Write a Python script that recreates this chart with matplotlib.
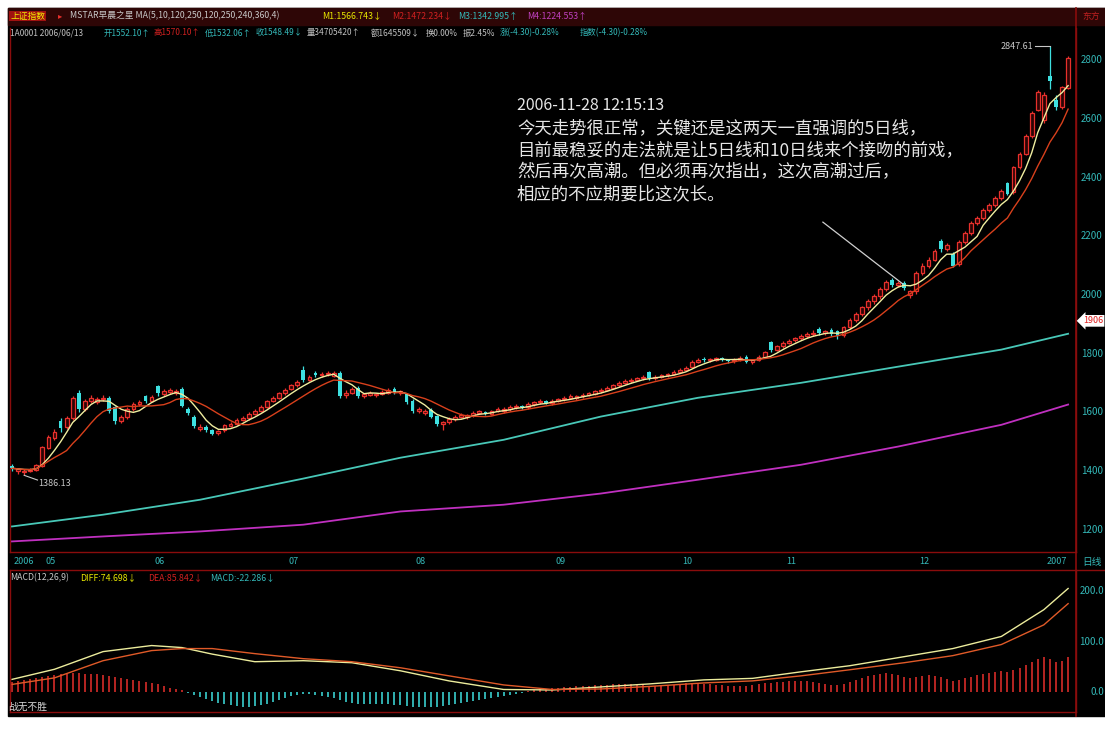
import numpy as np
import pandas as pd
import matplotlib
matplotlib.use("Agg")
import matplotlib.pyplot as plt
from matplotlib.patches import Rectangle
from matplotlib.lines import Line2D
from matplotlib.transforms import blended_transform_factory

plt.rcParams['font.family'] = ['Noto Sans CJK SC', 'DejaVu Sans']

# daily candles of the index, late Apr 2006 .. Jan 2007, one row per month
opens = [
    1418, 1402, 1398, 1400, 1404, 1418, 1480,
    1512, 1570, 1550, 1580, 1668, 1612, 1638, 1636, 1645, 1650, 1618, 1572, 1584, 1612, 1628, 1655, 1640, 1690,
    1662, 1670, 1668, 1680, 1612, 1585, 1545, 1550, 1540, 1530, 1540, 1555, 1562, 1575, 1582, 1595, 1605, 1620, 1640, 1650, 1665, 1680,
    1692, 1745, 1712, 1735, 1726, 1730, 1725, 1735, 1658, 1668, 1684, 1656, 1660, 1658, 1664, 1668, 1680, 1668, 1662, 1640, 1605,
    1598, 1610, 1588, 1560, 1566, 1578, 1585, 1584, 1590, 1598, 1600, 1596, 1606, 1604, 1612, 1618, 1620, 1618, 1628, 1636, 1640, 1632, 1640,
    1645, 1650, 1650, 1655, 1660, 1664, 1672, 1678, 1684, 1692, 1700, 1706, 1712, 1716, 1738, 1716, 1722, 1726, 1730, 1738, 1745,
    1755, 1772, 1782, 1778, 1780, 1785, 1778, 1774, 1780, 1790, 1772, 1778, 1790, 1840, 1812, 1825, 1838,
    1846, 1852, 1860, 1868, 1885, 1870, 1880, 1878, 1864, 1890, 1915, 1935, 1958, 1978, 1995, 2020, 2050, 2035, 2040, 2000, 2012, 2075,
    2100, 2120, 2185, 2155, 2140, 2105, 2180, 2210, 2245, 2262, 2290, 2305, 2330, 2380, 2350, 2435, 2480, 2540, 2630, 2595, 2745,
    2665, 2641, 2705,
]
closes = [
    1410, 1406, 1402, 1404, 1420, 1482, 1515,
    1535, 1548, 1582, 1650, 1612, 1640, 1650, 1645, 1650, 1605, 1570, 1585, 1612, 1630, 1635, 1640, 1652, 1665,
    1672, 1676, 1674, 1622, 1598, 1555, 1552, 1540, 1528, 1538, 1556, 1562, 1575, 1582, 1596, 1606, 1620, 1638, 1650, 1665, 1678, 1692,
    1705, 1712, 1722, 1728, 1732, 1736, 1733, 1655, 1668, 1680, 1655, 1662, 1668, 1664, 1670, 1676, 1668, 1672, 1635, 1605, 1612,
    1604, 1585, 1562, 1566, 1578, 1586, 1592, 1590, 1598, 1604, 1596, 1606, 1612, 1612, 1618, 1622, 1618, 1628, 1635, 1640, 1632, 1640, 1645,
    1650, 1656, 1655, 1660, 1665, 1672, 1678, 1685, 1692, 1700, 1708, 1712, 1716, 1722, 1718, 1722, 1726, 1730, 1738, 1745, 1752,
    1772, 1780, 1778, 1782, 1785, 1780, 1775, 1780, 1786, 1772, 1778, 1790, 1805, 1812, 1825, 1838, 1845,
    1852, 1860, 1868, 1872, 1870, 1876, 1868, 1862, 1890, 1915, 1935, 1958, 1978, 1995, 2020, 2045, 2035, 2040, 2025, 2012, 2075, 2100,
    2120, 2150, 2155, 2170, 2100, 2180, 2210, 2245, 2262, 2290, 2305, 2330, 2355, 2345, 2435, 2480, 2540, 2620, 2690, 2680, 2728,
    2641, 2707, 2808,
]
highs = [
    1424, 1412, 1408, 1410, 1426, 1486, 1522,
    1545, 1580, 1588, 1656, 1675, 1646, 1658, 1652, 1658, 1655, 1622, 1592, 1618, 1636, 1642, 1660, 1660, 1695,
    1680, 1684, 1680, 1686, 1618, 1590, 1560, 1556, 1545, 1542, 1560, 1568, 1580, 1588, 1600, 1612, 1625, 1642, 1656, 1670, 1684, 1698,
    1712, 1757, 1728, 1740, 1738, 1742, 1740, 1740, 1675, 1688, 1690, 1668, 1674, 1668, 1676, 1682, 1686, 1678, 1666, 1645, 1620,
    1612, 1614, 1592, 1572, 1584, 1592, 1598, 1596, 1604, 1610, 1606, 1610, 1618, 1618, 1624, 1628, 1626, 1634, 1640, 1646, 1644, 1645, 1650,
    1656, 1662, 1660, 1666, 1670, 1678, 1684, 1690, 1698, 1706, 1714, 1718, 1722, 1728, 1742, 1728, 1732, 1736, 1744, 1750, 1758,
    1778, 1786, 1788, 1786, 1790, 1790, 1782, 1784, 1792, 1795, 1782, 1795, 1810, 1845, 1830, 1842, 1850,
    1858, 1866, 1874, 1880, 1890, 1882, 1886, 1882, 1895, 1920, 1942, 1964, 1985, 2002, 2026, 2052, 2058, 2046, 2048, 2018, 2080, 2108,
    2128, 2158, 2192, 2178, 2145, 2186, 2218, 2252, 2270, 2296, 2312, 2338, 2362, 2385, 2440, 2488, 2548, 2628, 2698, 2690, 2847.61,
    2680, 2712, 2815,
]
lows = [
    1400, 1392, 1386.13, 1396, 1400, 1415, 1476,
    1505, 1535, 1545, 1575, 1600, 1605, 1632, 1630, 1640, 1598, 1560, 1565, 1578, 1605, 1622, 1632, 1635, 1655,
    1655, 1662, 1660, 1618, 1590, 1548, 1538, 1534, 1522, 1524, 1535, 1550, 1556, 1570, 1576, 1590, 1600, 1615, 1634, 1645, 1660, 1675,
    1688, 1705, 1708, 1722, 1720, 1725, 1720, 1650, 1648, 1662, 1650, 1650, 1655, 1652, 1660, 1664, 1662, 1660, 1630, 1598, 1598,
    1592, 1580, 1555, 1542, 1560, 1572, 1580, 1578, 1584, 1594, 1590, 1590, 1600, 1598, 1606, 1612, 1612, 1612, 1622, 1630, 1628, 1626, 1634,
    1640, 1645, 1644, 1650, 1655, 1660, 1668, 1674, 1680, 1688, 1696, 1702, 1708, 1712, 1710, 1712, 1718, 1722, 1726, 1734, 1740,
    1750, 1768, 1772, 1772, 1776, 1776, 1768, 1768, 1776, 1768, 1766, 1774, 1786, 1806, 1808, 1820, 1832,
    1840, 1846, 1855, 1862, 1864, 1865, 1860, 1850, 1858, 1885, 1908, 1928, 1950, 1970, 1988, 2012, 2028, 2028, 2018, 1990, 2005, 2068,
    2092, 2115, 2148, 2150, 2095, 2098, 2175, 2205, 2238, 2255, 2282, 2298, 2324, 2340, 2345, 2428, 2475, 2535, 2625, 2585, 2700,
    2630, 2632, 2700,
]

# long averages read at a few bars (cyan and purple lines)
ma_long_idx = [0, 15, 31, 48, 64, 81, 97, 113, 130, 146, 163, 174]
ma120 = [1212, 1252, 1303, 1375, 1446, 1507, 1586, 1650, 1701, 1756, 1814, 1868]
ma250 = [1161, 1178, 1195, 1218, 1263, 1286, 1324, 1371, 1422, 1484, 1558, 1627]

# MACD panel
macd_idx = [0, 7, 15, 23, 28, 33, 40, 48, 56, 64, 72, 81, 89, 97, 105, 114, 122, 130, 138, 147, 155, 163, 170, 174]
diff_vals = [25, 45, 80, 92, 88, 75, 60, 62, 58, 42, 22, 5, 4, 10, 16, 24, 27, 40, 52, 70, 86, 110, 163, 205]
dea_vals = [15, 28, 62, 82, 86, 86, 76, 66, 60, 48, 32, 14, 5, 6, 11, 18, 22, 32, 44, 58, 72, 94, 133, 175]
macd_bars = [
    20, 22, 24, 26, 28, 30,
    32, 34, 36, 36, 38, 38, 36,
    36, 36, 34, 32, 30, 28, 26, 24,
    22, 20, 18, 16, 12, 8, 6, 4,
    -2, -6, -10, -14, -18, -22, -24, -26,
    -28, -30, -30, -28, -26, -24, -20, -16,
    -12, -8, -6, -4, -4, -6, -8, -10,
    -12, -16, -20, -22, -24, -24, -24, -24,
    -24, -24, -26, -26, -28, -30, -30, -30,
    -30, -30, -28, -26, -24, -22, -20, -18,
    -16, -14, -12, -10, -8, -6, -4, -2,
    2, 4, 6, 6, 8, 8, 10, 10,
    12, 12, 12, 14, 14, 14, 16, 16,
    16, 16, 14, 14, 12, 12, 12, 14,
    14, 16, 18, 18, 18, 16, 16, 14,
    14, 12, 12, 12, 12, 14, 16, 18,
    18, 20, 20, 22, 22, 22, 22, 20,
    18, 16, 14, 14, 16, 20, 24, 28,
    32, 34, 36, 38, 36, 34, 30, 28,
    30, 32, 34, 32, 30, 26, 22, 24,
    28, 30, 34, 36, 38, 40, 42, 40,
    44, 48, 54, 60, 66, 70, 66, 60,
    62, 70,
]

month_starts = [7, 25, 47, 68, 91, 112, 129, 151, 172]
month_labels = ['05', '06', '07', '08', '09', '10', '11', '12', '2007']
price_ticks = [1200, 1400, 1600, 1800, 2000, 2200, 2400, 2600, 2800]
macd_ticks = [0, 100, 200]

RED = '#e8302c'
CYAN = '#3ee0e0'
FRAME = '#8a0c0c'
TXT_CYAN = '#34b8b8'

W, H = 1105, 729
def fx(x):
    return x / W
def fy(y):
    return 1 - y / H

fig = plt.figure(figsize=(W / 100, H / 100), dpi=100, facecolor='white')
fig.add_artist(Rectangle((fx(8), fy(716)), (W - 8) / W, (716 - 8) / H,
                         transform=fig.transFigure, color='black', zorder=0))
fig.add_artist(Rectangle((fx(8), fy(25)), (W - 8) / W, 17 / H,
                         transform=fig.transFigure, color='#2e0606', zorder=0))

ax = fig.add_axes([fx(10), fy(552), (1076 - 10) / W, (552 - 28) / H])
ax2 = fig.add_axes([fx(10), fy(712), (1076 - 10) / W, (712 - 570) / H])
for a in (ax, ax2):
    a.set_facecolor('black')
    a.set_xticks([])
    a.set_yticks([])
    for s in a.spines.values():
        s.set_color(FRAME)
        s.set_linewidth(1)
ax.spines['top'].set_visible(False)

o = np.array(opens, dtype=float)
c = np.array(closes, dtype=float)
hi = np.array(highs, dtype=float)
lo = np.array(lows, dtype=float)
x = np.arange(len(c))
up = c >= o

ax.vlines(x, lo, hi, colors=np.where(up, RED, CYAN), linewidth=0.9, zorder=2)
body_lo = np.minimum(o, c)
body_h = np.maximum(np.abs(c - o), 2.5)
ax.bar(x[up], body_h[up], bottom=body_lo[up], width=0.62, facecolor='#2c0404',
       edgecolor=RED, linewidth=0.9, zorder=3)
ax.bar(x[~up], body_h[~up], bottom=body_lo[~up], width=0.62, color=CYAN, zorder=3)

cs = pd.Series(c)
ax.plot(x, cs.rolling(5, min_periods=1).mean(), color='#f0eea0', lw=1, zorder=4)
ax.plot(x, cs.rolling(10, min_periods=1).mean(), color='#d8401c', lw=1, zorder=4)
ax.plot(ma_long_idx, ma120, color='#48c8b8', lw=1.3, zorder=4)
ax.plot(ma_long_idx, ma250, color='#c030c0', lw=1.3, zorder=4)

ax.set_xlim(-0.33, 175.3)
ax.set_ylim(1125, 2909)

# high / low marks
ax.plot([168.6, 171], [2847.61, 2847.61], color='#c8c8c8', lw=0.8)
ax.text(168.3, 2847.61, '2847.61', color='#c8c8c8', fontsize=6.5, ha='right', va='center')
ax.plot([2, 4.2], [1386.13, 1370], color='#c8c8c8', lw=0.8)
ax.text(4.4, 1357, '1386.13', color='#c8c8c8', fontsize=6.5, ha='left', va='center')

# comment
ax.plot([133.6, 146.8], [2248, 2037], color='#d0d0d0', lw=0.9, zorder=5)
note = ['2006-11-28 12:15:13',
        '今天走势很正常，关键还是这两天一直强调的5日线，',
        '目前最稳妥的走法就是让5日线和10日线来个接吻的前戏，',
        '然后再次高潮。但必须再次指出，这次高潮过后，',
        '相应的不应期要比这次长。']
for k, (line, yy) in enumerate(zip(note, [106, 128, 150, 172, 194])):
    fig.text(fx(517), fy(yy), line, color='#e6e6e6', fontsize=12.5 if k else 11.5,
             ha='left', va='center')

# MACD
hist = np.array(macd_bars, dtype=float)
hx = np.arange(len(hist))
ax2.vlines(hx, 0, hist, colors=np.where(hist >= 0, RED, CYAN), linewidth=1.1)
ax2.plot(macd_idx, diff_vals, color='#ecec9c', lw=1)
ax2.plot(macd_idx, dea_vals, color='#e05a28', lw=1)
ax2.set_xlim(-0.33, 175.3)
ax2.set_ylim(-39.6, 241.6)

# right-hand scales
tp = blended_transform_factory(fig.transFigure, ax.transData)
for p in price_ticks:
    fig.text(fx(1081), p, str(p), transform=tp, color=TXT_CYAN, fontsize=7, ha='left', va='center')
tm = blended_transform_factory(fig.transFigure, ax2.transData)
for m in macd_ticks:
    fig.text(fx(1104), m, f'{m:.1f}', transform=tm, color=TXT_CYAN, fontsize=7, ha='right', va='center')
fig.text(fx(1093), 1912, '1906', transform=tp, color='#e02020', fontsize=6.5, ha='center', va='center',
         bbox=dict(boxstyle='larrow,pad=0.15', fc='white', ec='none'))
fig.add_artist(Line2D([fx(1076), fx(1076)], [fy(8), fy(716)], color=FRAME, lw=1.2))
fig.add_artist(Line2D([fx(1076), fx(W)], [fy(570), fy(570)], color=FRAME, lw=1))

# date row
td = blended_transform_factory(ax.transData, fig.transFigure)
fig.text(fx(14), fy(561), '2006', color=TXT_CYAN, fontsize=6.5, va='center')
for m, lab in zip(month_starts, month_labels):
    ax.text(m - 1.5, fy(561), lab, transform=td, color=TXT_CYAN, fontsize=6.5, ha='left', va='center')
fig.text(fx(1082), fy(562), '日线', color=TXT_CYAN, fontsize=7, va='center')

# header lines
def put(xp, yp, s, col, fs=6.0, **kw):
    fig.text(fx(xp), fy(yp), s, color=col, fontsize=fs, ha='left', va='center', **kw)

put(10, 16, '上证指数', '#f0f000', fs=6.3, bbox=dict(fc='#a01010', ec='none', pad=0.6))
put(58, 16, '▸', RED)
put(70, 16, 'MSTAR早晨之星 MA(5,10,120,250,120,250,240,360,4)', '#c8c8c8', fs=6.3)
put(322, 16, 'M1:1566.743↓', '#e8e800', fs=6.3)
put(392, 16, 'M2:1472.234↓', '#d02020', fs=6.3)
put(458, 16, 'M3:1342.995↑', TXT_CYAN, fs=6.3)
put(527, 16, 'M4:1224.553↑', '#c040c0', fs=6.3)
put(1082, 16, '东方', '#c02020', fs=6.3)

put(10, 33, '1A0001 2006/06/13', '#c0c0c0')
put(104, 33, '开1552.10↑', TXT_CYAN)
put(153, 33, '高1570.10↑', '#d02020')
put(205, 33, '低1532.06↑', TXT_CYAN)
put(256, 33, '收1548.49↓', TXT_CYAN)
put(307, 33, '量34705420↑', '#c0c0c0')
put(371, 33, '额1645509↓', '#c0c0c0')
put(426, 33, '换0.00%', '#c0c0c0')
put(463, 33, '振2.45%', '#c0c0c0')
put(500, 33, '涨(-4.30)-0.28%', TXT_CYAN)
put(580, 33, '指数(-4.30)-0.28%', TXT_CYAN)

put(10, 578, 'MACD(12,26,9)', '#c8c8c8', fs=6.3)
put(80, 578, 'DIFF:74.698↓', '#e8e800', fs=6.3)
put(148, 578, 'DEA:85.842↓', '#d02020', fs=6.3)
put(210, 578, 'MACD:-22.286↓', TXT_CYAN, fs=6.3)
put(8, 707, '战无不胜', '#d8d8d8', fs=7)

fig.savefig('out.png', dpi=100, facecolor='white')
